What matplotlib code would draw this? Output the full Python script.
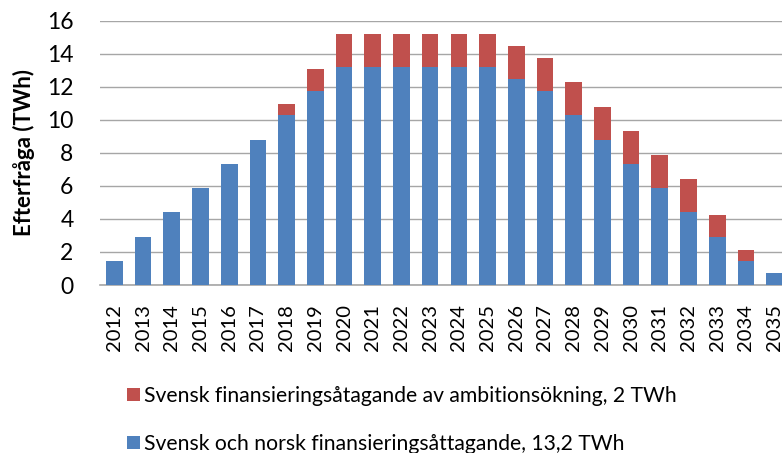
import matplotlib
matplotlib.use("Agg")
import matplotlib.pyplot as plt
import numpy as np

plt.rcParams["font.family"] = ["Lato", "DejaVu Sans"]

##################################################
# Data
years = [str(y) for y in range(2012, 2036)]
norsk = [1.47, 2.93, 4.4, 5.87, 7.33, 8.8, 10.27, 11.73,
         13.2, 13.2, 13.2, 13.2, 13.2, 13.2,
         12.47, 11.73, 10.27, 8.8, 7.33, 5.87, 4.4, 2.93, 1.47, 0.73]
svensk = [0, 0, 0, 0, 0, 0, 0.67, 1.33,
          2.0, 2.0, 2.0, 2.0, 2.0, 2.0,
          2.0, 2.0, 2.0, 2.0, 2.0, 2.0, 2.0, 1.33, 0.67, 0]
label_red = "Svensk finansieringsåtagande av ambitionsökning, 2 TWh"
label_blue = "Svensk och norsk finansieringsåttagande, 13,2 TWh"

##################################################
# Plot
fig = plt.figure(figsize=(7.82, 4.53), dpi=100)
ax = fig.add_axes([100 / 782, 1 - 285 / 453, 689 / 782, (285 - 20.7) / 453])

x = np.arange(len(years))
b1 = ax.bar(x, norsk, width=0.58, color="#4F81BD", zorder=3)
b2 = ax.bar(x, svensk, width=0.58, bottom=norsk, color="#C0504D", zorder=3)

ax.set_xlim(-0.5, len(years) - 0.5)
ax.set_ylim(0, 16)
ax.set_yticks(np.arange(0, 17, 2))
ax.set_xticks(x)
ax.set_xticklabels(years, rotation=90, fontsize=14.5)
ax.tick_params(axis="y", length=0, pad=19, labelsize=16.5)
ax.tick_params(axis="x", length=0, pad=14)
ax.grid(axis="y", color="#A6A6A6", linewidth=1, zorder=0)
for side in ["top", "right", "left"]:
    ax.spines[side].set_visible(False)
ax.spines["bottom"].set_color("#A6A6A6")
ax.spines["bottom"].set_linewidth(1.2)
ax.set_ylabel("Efterfråga (TWh)", fontsize=16, fontweight="bold")
ax.yaxis.set_label_coords(-0.095, 0.5)

fig.legend([b2, b1], [label_red, label_blue], loc="upper left",
           bbox_to_anchor=(127 / 782, 1 - 386 / 453), frameon=False,
           fontsize=15.2, handlelength=0.6, handleheight=0.55,
           handletextpad=0.2, labelspacing=1.32,
           borderpad=0, borderaxespad=0)

fig.savefig("out.png", dpi=100)
